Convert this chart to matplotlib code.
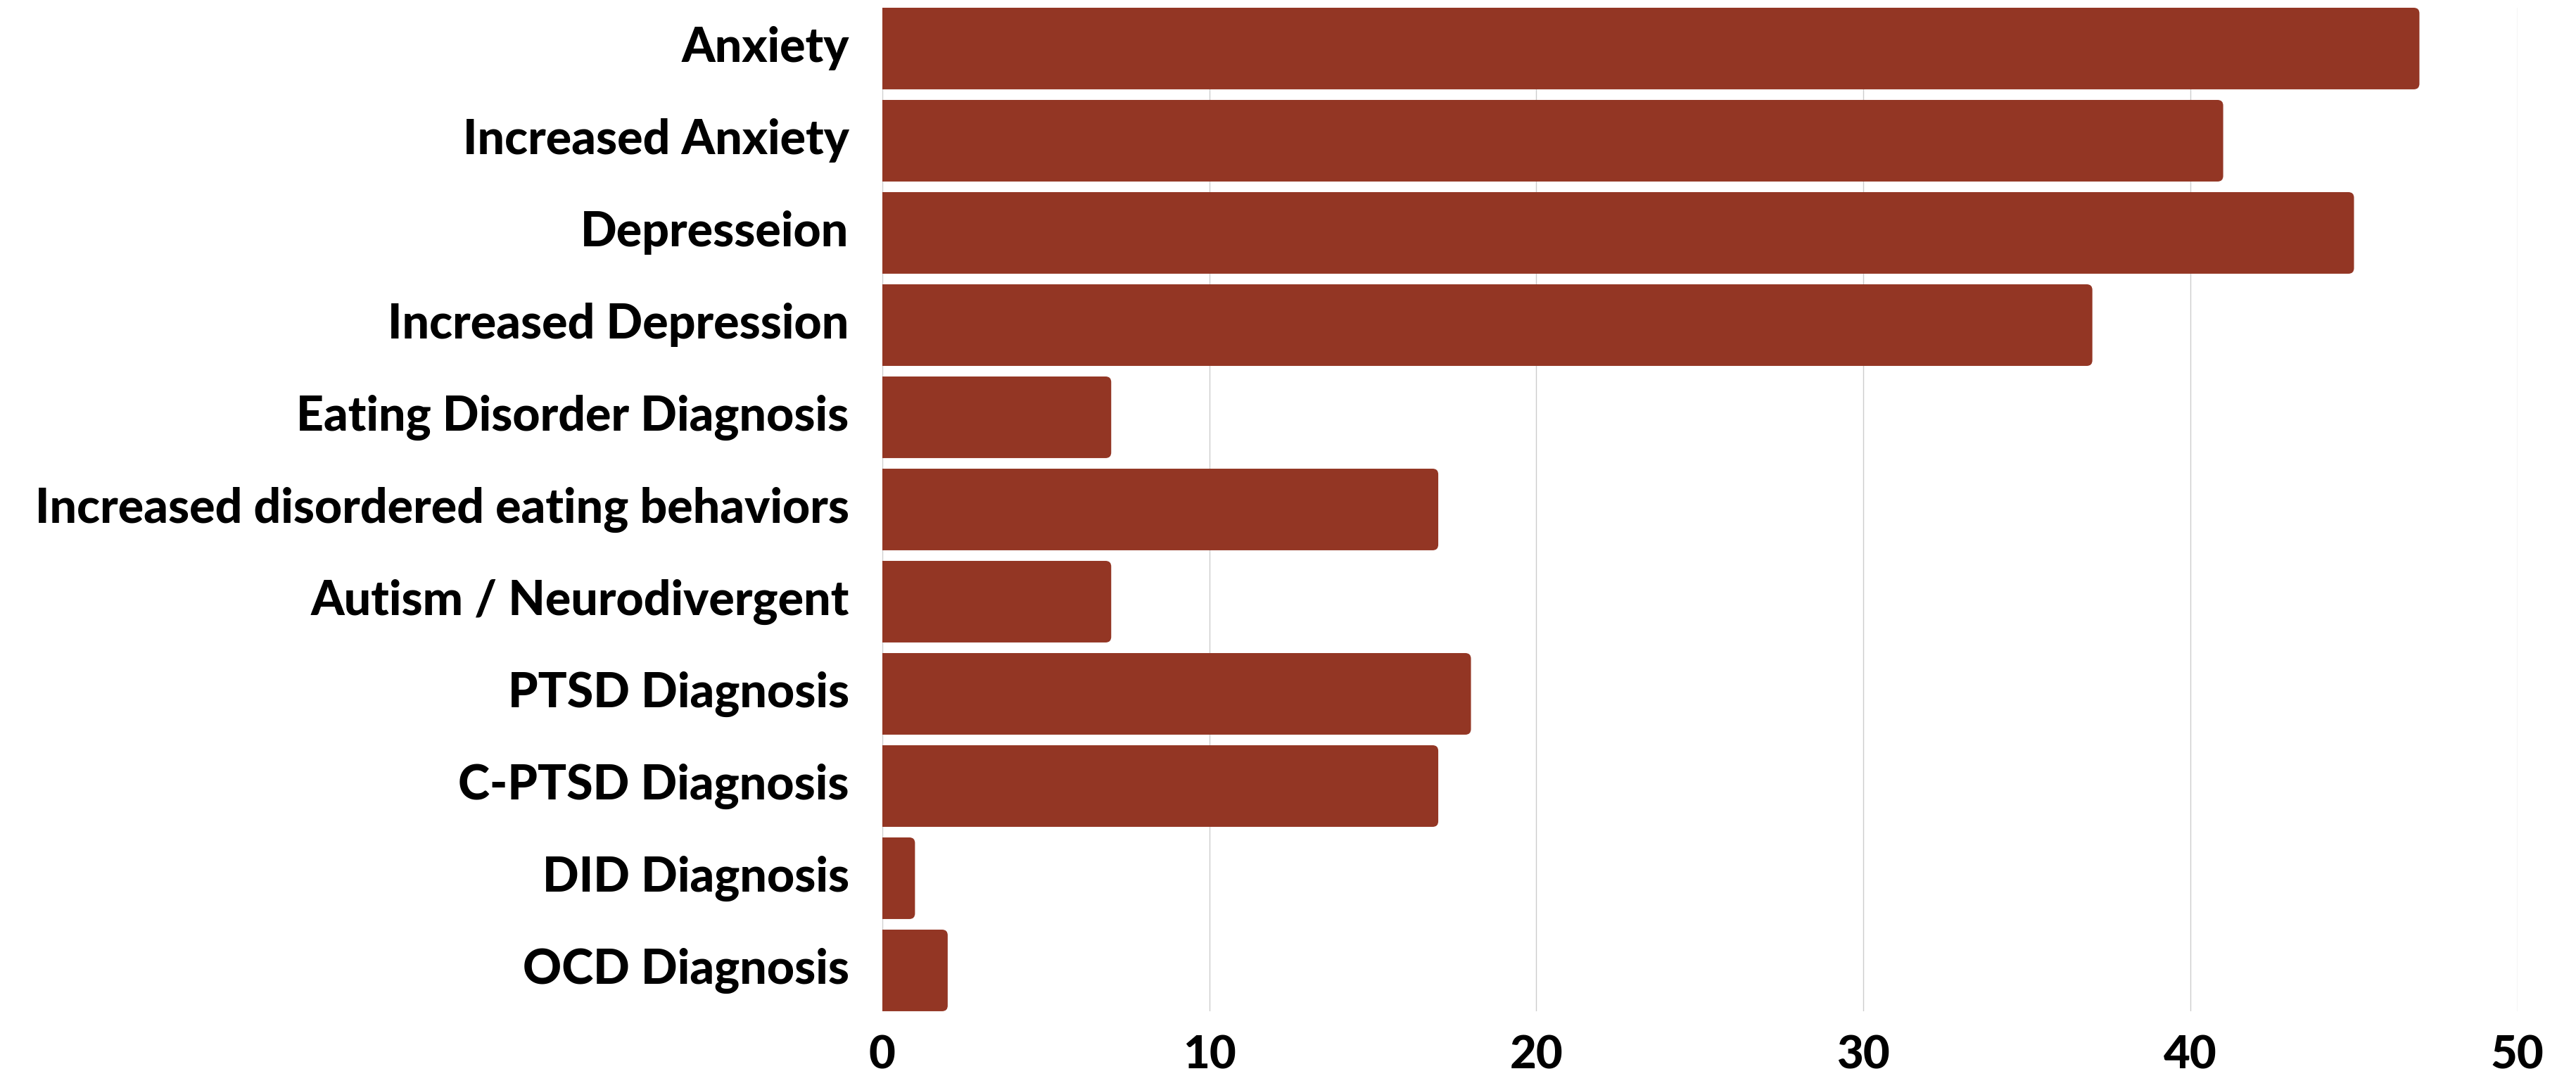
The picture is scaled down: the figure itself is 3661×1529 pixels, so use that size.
import matplotlib
matplotlib.use("Agg")
import matplotlib.pyplot as plt
import matplotlib.transforms as mtransforms
from matplotlib.path import Path
from matplotlib.patches import PathPatch

# data
categories = ["Anxiety", "Increased Anxiety", "Depresseion", "Increased Depression",
              "Eating Disorder Diagnosis", "Increased disordered eating behaviors",
              "Autism / Neurodivergent", "PTSD Diagnosis", "C-PTSD Diagnosis",
              "DID Diagnosis", "OCD Diagnosis"]
counts = [47, 41, 45, 37, 7, 17, 7, 18, 17, 1, 2]
xticks = [0, 10, 20, 30, 40, 50]

bar_color = "#933624"
bar_h = 0.885

plt.rcParams["font.family"] = ["Lato", "DejaVu Sans"]

fig = plt.figure(figsize=(36.61, 15.29), dpi=100)
ax = fig.add_axes([0.3425, 0.0602, 0.9773 - 0.3425, 0.9928 - 0.0602])

pos = list(range(len(categories)))
bars = ax.barh(pos, counts, height=bar_h, color=bar_color, zorder=2)

ax.set_xlim(0, 50)
ax.set_ylim(len(categories) - 1 + bar_h / 2, -bar_h / 2)

# rounded right corners (radius ~8 px) -> convert to data units
fig.canvas.draw()
x_per_px = 50 / (ax.get_window_extent().width)
y_per_px = (len(categories) - 1 + bar_h) / (ax.get_window_extent().height)
rx, ry = 8 * x_per_px, 8 * y_per_px


def rounded_right(x0, y0, w, h):
    x1, y1 = x0 + w, y0 + h
    r_x = min(rx, w / 2)
    verts = [(x0, y0), (x1 - r_x, y0), (x1, y0), (x1, y0 + ry),
             (x1, y1 - ry), (x1, y1), (x1 - r_x, y1), (x0, y1), (x0, y0)]
    codes = [Path.MOVETO, Path.LINETO, Path.CURVE3, Path.CURVE3,
             Path.LINETO, Path.CURVE3, Path.CURVE3, Path.LINETO, Path.CLOSEPOLY]
    return Path(verts, codes)


for b in bars:
    b.set_visible(False)
    p = rounded_right(b.get_x(), b.get_y(), b.get_width(), b.get_height())
    ax.add_patch(PathPatch(p, facecolor=bar_color, edgecolor="none", zorder=2))

ax.set_xticks(xticks)
ax.set_xticklabels([str(t) for t in xticks])
ax.set_yticks(pos)
ax.set_yticklabels(categories)

ax.grid(axis="x", color="#cccccc", linewidth=1.0, zorder=0)
ax.set_axisbelow(True)
for s in ax.spines.values():
    s.set_visible(False)

ax.tick_params(axis="both", length=0)
ax.tick_params(axis="y", pad=34, labelsize=49)
ax.tick_params(axis="x", pad=24, labelsize=47)

shift_up = mtransforms.ScaledTranslation(0, 5 / 72, fig.dpi_scale_trans)
for lbl in ax.get_yticklabels():
    lbl.set_fontweight("black")
    lbl.set_color("black")
    lbl.set_transform(lbl.get_transform() + shift_up)
for lbl in ax.get_xticklabels():
    lbl.set_fontweight("black")
    lbl.set_color("black")

fig.savefig("out.png", dpi=100, facecolor="white")
